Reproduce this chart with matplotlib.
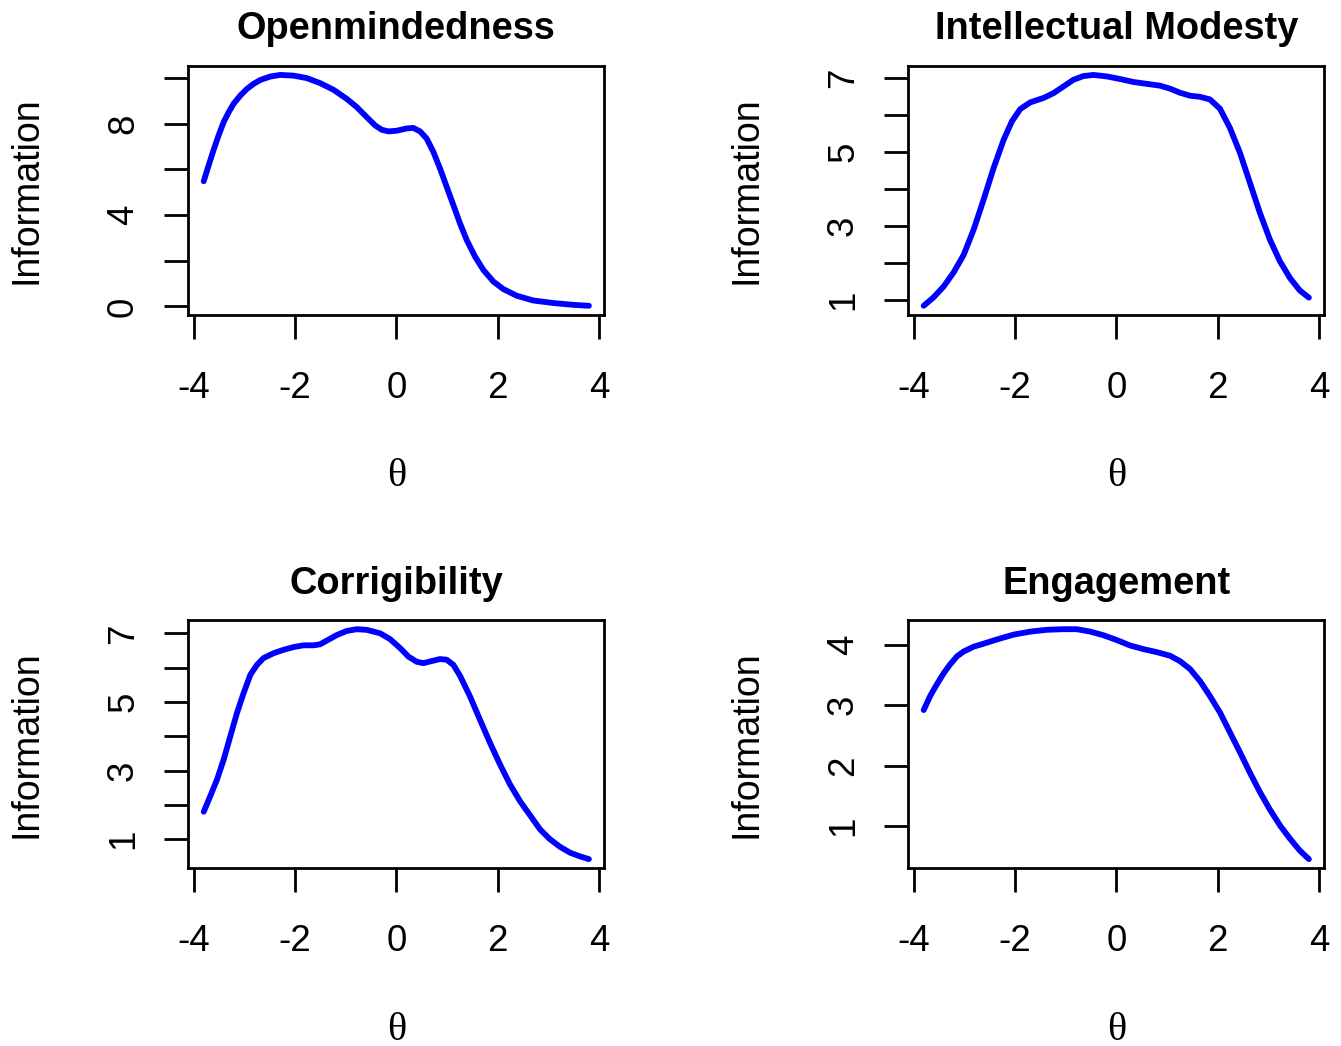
import matplotlib
matplotlib.use("Agg")
import matplotlib.pyplot as plt

plt.rcParams['font.family'] = ['Liberation Sans', 'DejaVu Sans']
plt.rcParams['axes.unicode_minus'] = False

titles = ["Openmindedness", "Intellectual Modesty", "Corrigibility", "Engagement"]

theta_open = [-3.804, -3.706, -3.607, -3.509, -3.410, -3.311, -3.213, -3.081, -2.950, -2.819,
              -2.687, -2.490, -2.293, -2.030, -1.767, -1.505, -1.242, -0.979, -0.782, -0.585,
              -0.420, -0.289, -0.158, 0.007, 0.204, 0.335, 0.466, 0.598, 0.729, 0.861,
              0.992, 1.124, 1.255, 1.386, 1.551, 1.715, 1.912, 2.109, 2.372, 2.700,
              3.095, 3.489, 3.798]
info_open = [5.48, 6.18, 6.86, 7.49, 8.07, 8.50, 8.87, 9.23, 9.52, 9.74,
             9.91, 10.06, 10.13, 10.10, 9.99, 9.77, 9.48, 9.08, 8.72, 8.28,
             7.92, 7.73, 7.66, 7.69, 7.79, 7.81, 7.66, 7.34, 6.76, 6.03,
             5.23, 4.43, 3.63, 2.91, 2.18, 1.60, 1.09, 0.76, 0.47, 0.26,
             0.15, 0.07, 0.03]

theta_mod = [-3.804, -3.607, -3.410, -3.213, -3.016, -2.819, -2.622, -2.425, -2.227, -2.063,
             -1.899, -1.702, -1.439, -1.242, -1.045, -0.848, -0.651, -0.453, -0.191, 0.072,
             0.335, 0.598, 0.861, 1.058, 1.255, 1.452, 1.649, 1.846, 2.043, 2.240,
             2.438, 2.635, 2.832, 3.029, 3.226, 3.423, 3.620, 3.798]
info_mod = [0.85, 1.08, 1.37, 1.75, 2.22, 2.90, 3.71, 4.56, 5.32, 5.82,
            6.15, 6.33, 6.45, 6.58, 6.76, 6.94, 7.04, 7.07, 7.03, 6.96,
            6.88, 6.83, 6.78, 6.70, 6.59, 6.51, 6.48, 6.41, 6.16, 5.64,
            4.97, 4.16, 3.35, 2.63, 2.05, 1.60, 1.26, 1.07]

theta_corr = [-3.804, -3.673, -3.541, -3.410, -3.279, -3.147, -3.016, -2.884, -2.753, -2.622,
              -2.425, -2.227, -2.030, -1.833, -1.636, -1.505, -1.373, -1.176, -0.979, -0.782,
              -0.585, -0.322, -0.125, 0.072, 0.237, 0.401, 0.532, 0.664, 0.861, 0.992,
              1.124, 1.255, 1.452, 1.649, 1.846, 2.043, 2.240, 2.438, 2.635, 2.832,
              3.029, 3.226, 3.423, 3.620, 3.798]
info_corr = [1.80, 2.26, 2.74, 3.32, 4.00, 4.68, 5.26, 5.79, 6.08, 6.28,
             6.42, 6.52, 6.60, 6.65, 6.65, 6.68, 6.79, 6.95, 7.07, 7.12,
             7.10, 7.00, 6.83, 6.57, 6.32, 6.17, 6.13, 6.18, 6.25, 6.23,
             6.08, 5.76, 5.16, 4.48, 3.81, 3.18, 2.60, 2.11, 1.70, 1.29,
             1.00, 0.78, 0.61, 0.50, 0.42]

theta_eng = [-3.804, -3.673, -3.541, -3.410, -3.279, -3.147, -3.016, -2.819, -2.622, -2.359,
             -2.030, -1.702, -1.373, -1.045, -0.782, -0.519, -0.256, 0.007, 0.269, 0.532,
             0.795, 1.058, 1.255, 1.452, 1.649, 1.846, 2.043, 2.240, 2.438, 2.635,
             2.832, 3.029, 3.226, 3.423, 3.620, 3.798]
info_eng = [2.92, 3.16, 3.35, 3.53, 3.68, 3.81, 3.89, 3.97, 4.02, 4.09,
            4.17, 4.22, 4.25, 4.26, 4.26, 4.22, 4.16, 4.08, 3.99, 3.93,
            3.88, 3.82, 3.73, 3.60, 3.40, 3.15, 2.88, 2.55, 2.22, 1.88,
            1.56, 1.27, 1.01, 0.79, 0.59, 0.45]

x_ticks = [-4, -2, 0, 2, 4]
x_ticklabels = ["-4", "-2", "0", "2", "4"]
y_ticks = [[0, 2, 4, 6, 8, 10], [1, 2, 3, 4, 5, 6, 7], [1, 2, 3, 4, 5, 6, 7], [1, 2, 3, 4]]
y_ticklabels = [["0", "", "4", "", "8", ""],
                ["1", "", "3", "", "5", "", "7"],
                ["1", "", "3", "", "5", "", "7"],
                ["1", "2", "3", "4"]]

series = [(theta_open, info_open), (theta_mod, info_mod),
          (theta_corr, info_corr), (theta_eng, info_eng)]

W, H = 1341, 1046
fig = plt.figure(figsize=(W / 100, H / 100), dpi=100)

boxes = [(188.3, 65.7, 604.3, 315.0), (908.3, 65.7, 1324.3, 315.0),
         (188.3, 620.0, 604.3, 868.3), (908.3, 620.0, 1324.3, 868.3)]

for i, (l, t, r, b) in enumerate(boxes):
    ax = fig.add_axes([l / W, 1 - b / H, (r - l) / W, (b - t) / H])
    th, inf = series[i]
    ax.plot(th, inf, color=(0, 0, 1), lw=4.2, solid_capstyle='round', solid_joinstyle='round')
    ax.margins(x=0.04, y=0.04)
    ax.set_xticks(x_ticks)
    ax.set_xticklabels(x_ticklabels)
    ax.set_yticks(y_ticks[i])
    ax.set_yticklabels(y_ticklabels[i], rotation=90, va='center')
    for s in ax.spines.values():
        s.set_linewidth(2.0)
    ax.tick_params(axis='both', direction='out', length=17, width=2.0, labelsize=26.5)
    ax.tick_params(axis='x', pad=23)
    ax.tick_params(axis='y', pad=17)
    ax.set_title(titles[i], fontsize=27.4, fontweight='bold', pad=19)
    ax.set_xlabel("θ", fontsize=29, family=['Liberation Serif', 'DejaVu Serif'], labelpad=38)
    ax.set_ylabel("Information", fontsize=27, labelpad=44)

fig.savefig("out.png", dpi=100)
